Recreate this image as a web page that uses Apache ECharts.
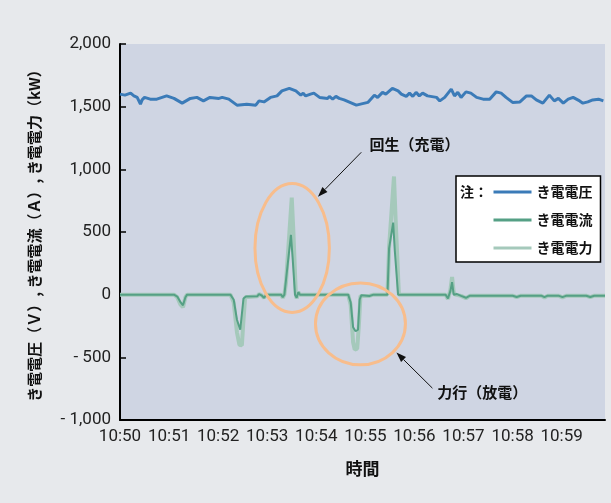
<!DOCTYPE html>
<html>
<head>
<meta charset="utf-8">
<script src="https://cdn.jsdelivr.net/npm/echarts@6/dist/echarts.min.js"></script>
<style>
  html, body { margin: 0; padding: 0; background: #e7e9ec; }
  #chart { width: 611px; height: 503px; }
</style>
</head>
<body>
<div id="chart"></div>
<script>
// x = seconds after 10:50:00
const tickLabels = ['10:50', '10:51', '10:52', '10:53', '10:54', '10:55', '10:56', '10:57', '10:58', '10:59'];
const seriesNames = ['き電電圧', 'き電電流', 'き電電力'];

const voltage = [
  [0, 1600], [6, 1592], [13, 1608], [17, 1586], [21, 1574], [25, 1520], [27, 1554], [30, 1574],
  [37, 1560], [45, 1560], [57, 1586], [66, 1566], [76, 1528], [86, 1566], [94, 1574], [102, 1546],
  [110, 1574], [121, 1566], [125, 1574], [133, 1560], [143, 1512], [155, 1520], [166, 1512], [170, 1546],
  [176, 1538], [184, 1574], [192, 1586], [198, 1626], [207, 1646], [215, 1626], [221, 1592], [224, 1608],
  [227, 1586], [233, 1600], [237, 1608], [244, 1574], [254, 1566], [256, 1582], [260, 1560], [264, 1582],
  [268, 1566], [274, 1554], [289, 1512], [303, 1534], [311, 1592], [315, 1574], [321, 1614], [325, 1600],
  [333, 1646], [340, 1626], [344, 1600], [350, 1582], [354, 1608], [358, 1582], [362, 1614], [366, 1586],
  [370, 1608], [376, 1586], [387, 1574], [391, 1546], [397, 1574], [405, 1640], [409, 1586], [413, 1614],
  [417, 1574], [423, 1618], [429, 1608], [436, 1574], [444, 1560], [452, 1560], [460, 1618], [466, 1608],
  [472, 1574], [480, 1534], [489, 1538], [497, 1586], [503, 1586], [509, 1554], [517, 1528], [525, 1592],
  [531, 1546], [536, 1566], [542, 1528], [548, 1560], [554, 1574], [562, 1546], [566, 1528], [572, 1538],
  [578, 1554], [585, 1560], [591, 1546]
];

const current = [
  [0, 0], [66, 0], [70, -15], [74, -60], [77, -85], [80, -20], [82, 0], [135, 0], [139, -40], [143, -200],
  [147, -280], [149, -270], [151, -30], [154, -15], [168, -12], [170, 5], [173, -5], [176, -25], [179, 0],
  [197, 0], [199, -20], [201, 0], [203, 120], [209, 478], [211, 300], [214, 0], [216, -25], [218, 20],
  [220, 0], [279, 0], [282, -60], [285, -260], [288, -292], [291, -280], [293, -40], [295, -5], [305, -10],
  [310, 0], [327, 0], [329, 370], [334, 575], [336, 350], [340, 0], [398, 0], [401, -30], [404, 30],
  [406, 100], [408, 0], [412, 5], [417, -10], [423, -25], [428, -8], [480, -8], [485, -18], [490, -8],
  [515, -8], [519, -20], [523, -8], [536, -8], [541, -20], [546, -8], [570, -8], [575, -18], [580, -8],
  [593, -8]
];

const power = [
  [0, 0], [66, 0], [70, -20], [74, -80], [77, -100], [80, -20], [82, 0], [135, 0], [139, -60], [143, -300],
  [146, -400], [149, -405], [151, -200], [153, -20], [168, -12], [170, 5], [173, -5], [176, -25], [179, 0],
  [197, 0], [199, -25], [201, 0], [203, 100], [210, 775], [212, 500], [215, 0], [216, -30], [218, 20],
  [220, 0], [279, 0], [282, -80], [285, -380], [287, -438], [290, -430], [292, -250], [294, -10], [305, -10],
  [310, 0], [327, 0], [329, 380], [335, 943], [337, 600], [341, 0], [398, 0], [401, -35], [404, 40],
  [406, 141], [408, 20], [410, 0], [417, -10], [423, -28], [428, -8], [480, -8], [485, -20], [490, -8],
  [515, -8], [519, -22], [523, -8], [536, -8], [541, -22], [546, -8], [570, -8], [575, -20], [580, -8],
  [593, -8]
];

// annotation anchors in data units: [seconds, value]
const ellipses = [
  [[165, 886], [256, -142]],
  [[239, 94], [349, -560]]
];
const arrows = [
  [[295, 1136], [242, 782]],
  [[382, -746], [338, -462]]
];
const notes = [
  ['回生（充電）', [305, 1200]],
  ['力行（放電）', [388, -776]]
];

const chart = echarts.init(document.getElementById('chart'));

const fmtY = v => {
  const s = Math.abs(v).toLocaleString('en-US');
  return v < 0 ? '- ' + s : s;
};

const option = {
  backgroundColor: '#e7e9ec',
  animation: false,
  textStyle: { fontFamily: 'Roboto, "Noto Sans CJK JP", sans-serif' },
  grid: {
    left: 120, right: 6, top: 44, bottom: 83,
    show: true, backgroundColor: '#cfd5e3', borderWidth: 0
  },
  legend: {
    orient: 'vertical',
    left: 456, top: 176,
    padding: [9, 8, 7, 36],
    itemWidth: 38, itemHeight: 14, itemGap: 14,
    backgroundColor: '#fff', borderColor: '#000', borderWidth: 1.5,
    lineStyle: { width: 3 },
    itemStyle: { opacity: 0 },
    textStyle: { fontFamily: '"Noto Sans CJK JP"', fontWeight: 'bold', fontSize: 14, color: '#111' },
    data: seriesNames
  },
  xAxis: {
    type: 'value',
    min: 0, max: 593, interval: 60,
    name: '時間',
    nameLocation: 'middle', nameGap: 40,
    nameTextStyle: { fontFamily: '"Noto Sans CJK JP"', fontWeight: 'bold', fontSize: 17, color: '#111' },
    axisLine: { onZero: false, lineStyle: { color: '#000', width: 2 } },
    axisTick: { show: false },
    splitLine: { show: false },
    axisLabel: {
      fontSize: 17, color: '#222', margin: 8,
      showMaxLabel: false,
      formatter: v => (v % 60 === 0 ? tickLabels[v / 60] || '' : '')
    }
  },
  yAxis: {
    type: 'value',
    min: -1000, max: 2000, interval: 500,
    name: 'き電電圧（Ｖ）, き電電流（Ａ）, き電電力（kW）',
    nameLocation: 'middle', nameGap: 78, nameRotate: 90,
    nameTextStyle: { fontFamily: '"Noto Sans CJK JP"', fontWeight: 'bold', fontSize: 15, color: '#111' },
    axisLine: { show: true, onZero: false, lineStyle: { color: '#000', width: 2 } },
    axisTick: { show: true, inside: true, length: 6, lineStyle: { color: '#000', width: 1.5 } },
    splitLine: { show: false },
    axisLabel: { fontSize: 17, color: '#222', margin: 9, formatter: fmtY }
  },
  series: [
    {
      name: seriesNames[0], type: 'line', data: voltage, symbol: 'none', z: 4,
      itemStyle: { color: '#3b7bb8' },
      lineStyle: { color: '#3b7bb8', width: 3 }
    },
    {
      name: seriesNames[1], type: 'line', data: current, symbol: 'none', z: 3,
      itemStyle: { color: '#5ba58a' },
      lineStyle: { color: '#55a085', width: 2 }
    },
    {
      name: seriesNames[2], type: 'line', data: power, symbol: 'none', z: 2,
      itemStyle: { color: '#a7cbbd' },
      lineStyle: { color: '#a5c9bb', width: 4 }
    }
  ]
};

chart.setOption(option);

// annotations placed through the grid's own coordinate system
const px = p => chart.convertToPixel({ gridIndex: 0 }, p);
const graphics = [];

ellipses.forEach(([a, b]) => {
  const p1 = px(a), p2 = px(b);
  graphics.push({
    type: 'ellipse', z: 10,
    shape: {
      cx: (p1[0] + p2[0]) / 2, cy: (p1[1] + p2[1]) / 2,
      rx: Math.abs(p2[0] - p1[0]) / 2, ry: Math.abs(p2[1] - p1[1]) / 2
    },
    style: { fill: null, stroke: '#f8bd8c', lineWidth: 3 }
  });
});

arrows.forEach(([from, to]) => {
  const a = px(from), b = px(to);
  const ang = Math.atan2(b[1] - a[1], b[0] - a[0]);
  const len = 10, w = 3.5;
  const bx = b[0] - len * Math.cos(ang), by = b[1] - len * Math.sin(ang);
  graphics.push({
    type: 'line', z: 11,
    shape: { x1: a[0], y1: a[1], x2: bx, y2: by },
    style: { stroke: '#111', lineWidth: 1 }
  });
  graphics.push({
    type: 'polygon', z: 11,
    shape: {
      points: [
        b,
        [bx + w * Math.sin(ang), by - w * Math.cos(ang)],
        [bx - w * Math.sin(ang), by + w * Math.cos(ang)]
      ]
    },
    style: { fill: '#111' }
  });
});

notes.forEach(([text, at]) => {
  const p = px(at);
  graphics.push({
    type: 'text', z: 12, x: p[0], y: p[1],
    style: {
      text, fill: '#111', font: 'bold 15px "Noto Sans CJK JP"',
      textAlign: 'left', textVerticalAlign: 'middle'
    }
  });
});

// "注：" in front of the legend
graphics.push({
  type: 'text', z: 12, x: 460, y: 192,
  style: { text: '注：', fill: '#111', font: 'bold 14px "Noto Sans CJK JP"', textVerticalAlign: 'middle' }
});

chart.setOption({ graphic: graphics });
</script>
</body>
</html>
